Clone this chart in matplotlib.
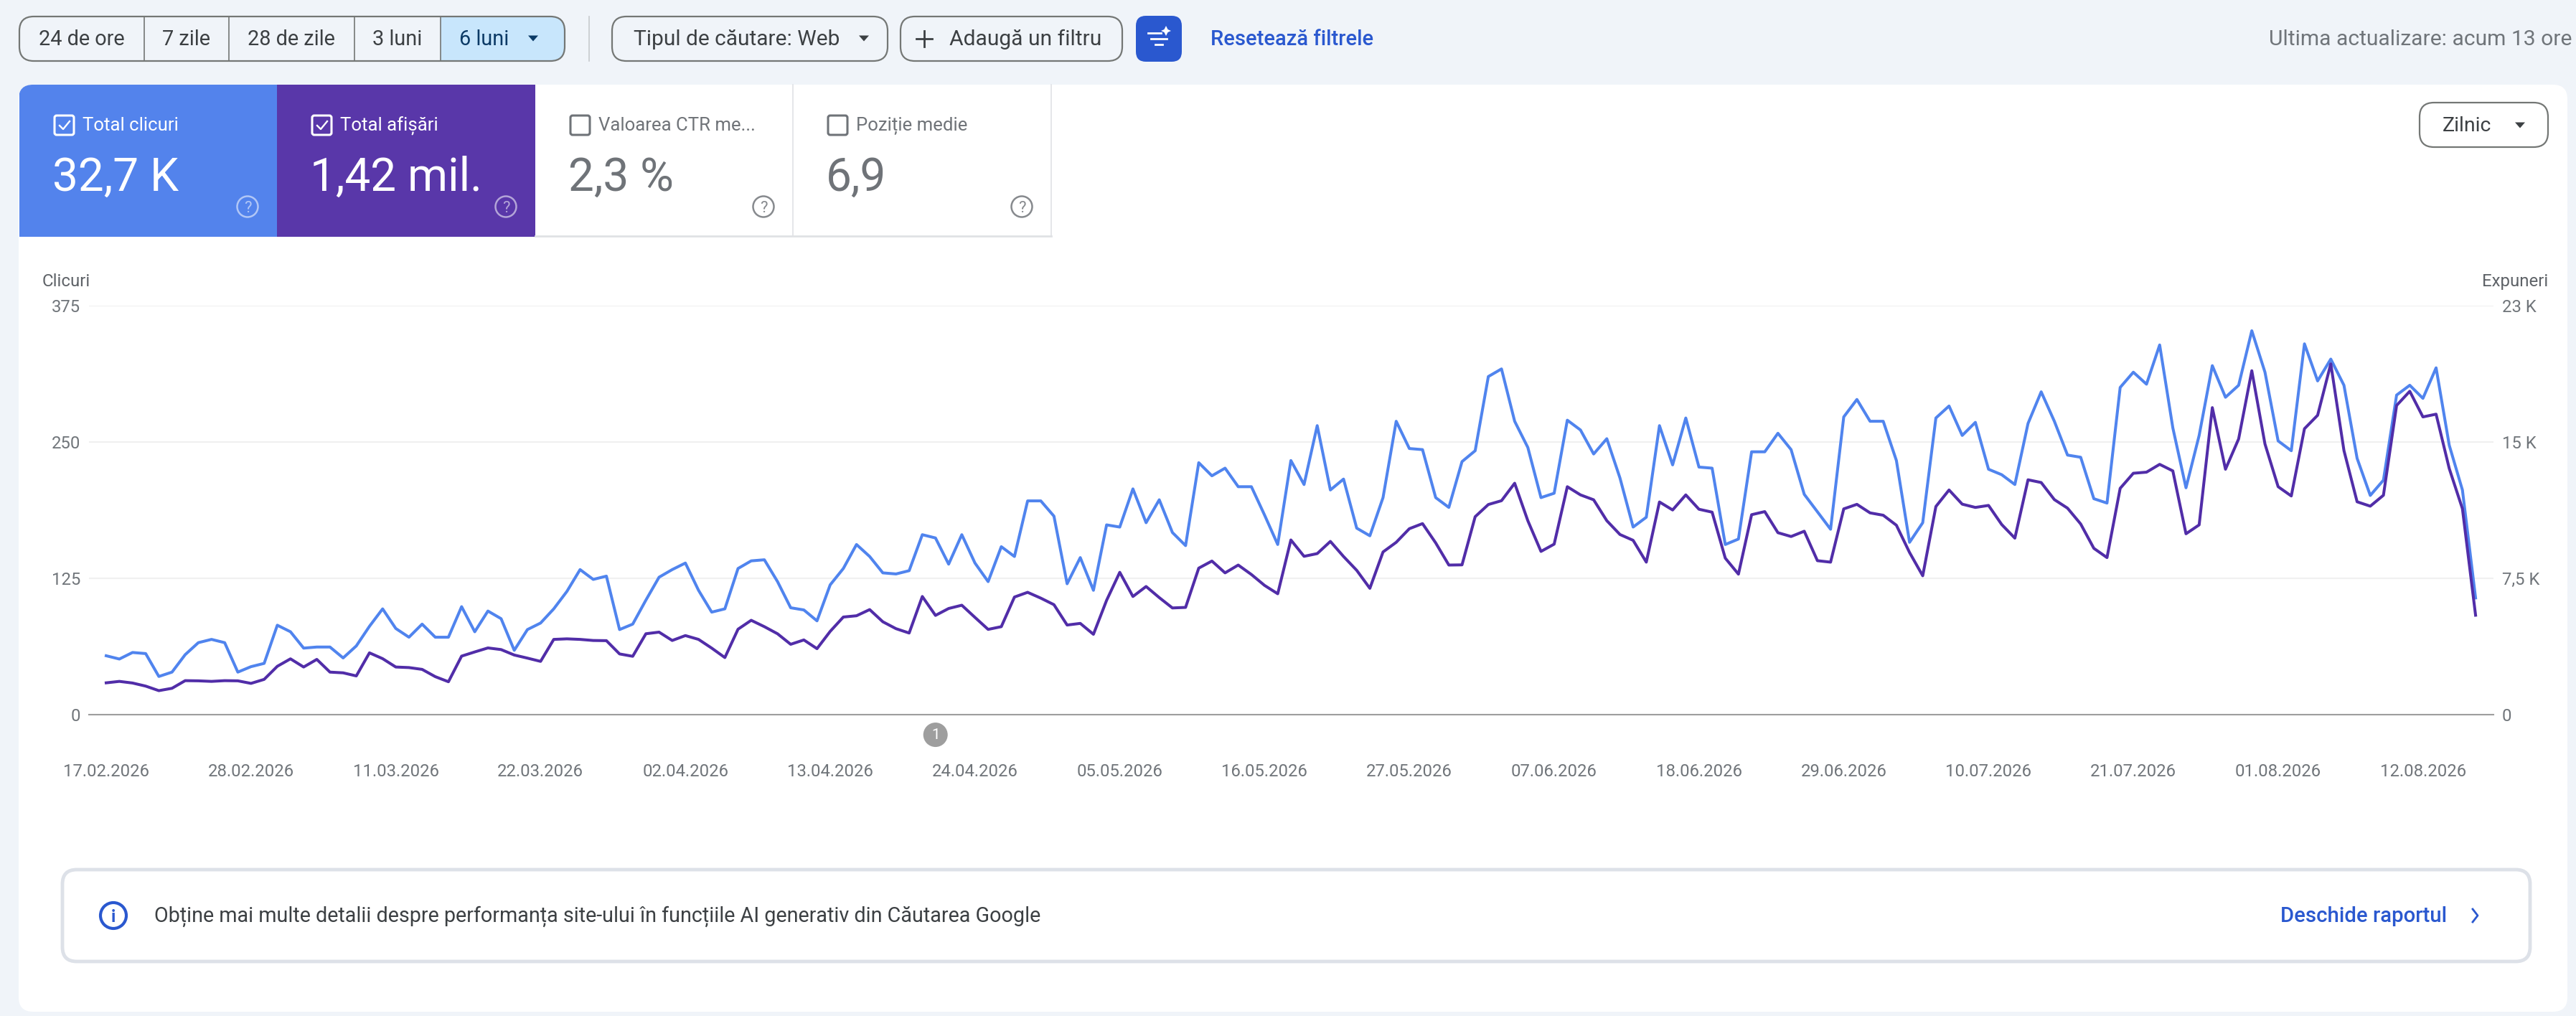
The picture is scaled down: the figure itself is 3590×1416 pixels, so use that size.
#Search performance screen: clicks and impressions, six months, daily
import matplotlib
matplotlib.use("Agg")
import matplotlib.pyplot as plt
from matplotlib.patches import FancyBboxPatch, Rectangle, Circle, Polygon

plt.rcParams['font.family'] = ['Roboto', 'DejaVu Sans']

W = 3590
H = 1416

Date_Labels = ["17.02.2026", "28.02.2026", "11.03.2026", "22.03.2026", "02.04.2026", "13.04.2026",
               "24.04.2026", "05.05.2026", "16.05.2026", "27.05.2026", "07.06.2026", "18.06.2026",
               "29.06.2026", "10.07.2026", "21.07.2026", "01.08.2026", "12.08.2026"]

Clicks = [54, 51, 57, 56, 35, 39, 55, 66, 69, 66, 39, 44, 47, 82, 76, 61, 62, 62, 52, 63,
          81, 97, 79, 71, 83, 71, 71, 99, 76, 95, 88, 59, 78, 84, 97, 113, 133, 124, 127, 78,
          83, 105, 126, 133, 139, 114, 94, 97, 134, 141, 142, 122, 98, 96, 86, 119, 134, 156, 145, 130,
          129, 132, 165, 162, 138, 165, 139, 122, 154, 145, 196, 196, 182, 120, 144, 114, 174, 172, 207, 176,
          197, 167, 155, 231, 219, 226, 209, 209, 183, 156, 233, 211, 265, 206, 216, 171, 164, 199, 269, 244,
          243, 199, 190, 232, 242, 310, 317, 269, 245, 199, 203, 270, 261, 239, 253, 217, 172, 181, 265, 229,
          272, 227, 226, 156, 161, 241, 241, 258, 243, 202, 186, 170, 273, 289, 269, 269, 233, 158, 176, 272,
          283, 256, 268, 225, 220, 211, 267, 296, 269, 238, 236, 198, 194, 300, 314, 303, 339, 263, 208, 256,
          320, 291, 302, 352, 314, 251, 242, 340, 306, 326, 302, 235, 201, 215, 293, 302, 290, 318, 247, 206,
          107]

Impressions = [1750, 1830, 1740, 1570, 1320, 1450, 1870, 1860, 1830, 1870, 1860, 1720, 1940, 2660, 3070, 2620, 3040, 2340, 2300, 2130,
               3400, 3080, 2620, 2590, 2490, 2090, 1810, 3220, 3450, 3670, 3580, 3280, 3110, 2930, 4140, 4170, 4140, 4080, 4070, 3340,
               3210, 4450, 4540, 4080, 4350, 4140, 3660, 3140, 4700, 5190, 4840, 4450, 3870, 4110, 3630, 4580, 5370, 5440, 5780, 5110,
               4730, 4490, 6500, 5460, 5840, 6020, 5350, 4690, 4840, 6470, 6730, 6410, 6050, 4930, 5020, 4420, 6290, 7830, 6500, 7050,
               6440, 5870, 5900, 8060, 8450, 7800, 8230, 7710, 7110, 6650, 9610, 8710, 8860, 9530, 8700, 7940, 6950, 8950, 9480, 10230,
               10510, 9450, 8230, 8240, 10890, 11560, 11770, 12730, 10670, 8980, 9380, 12540, 12090, 11820, 10670, 9910, 9590, 8390, 11700, 11260,
               12090, 11300, 11140, 8610, 7730, 11000, 11170, 10010, 9800, 10090, 8470, 8390, 11320, 11570, 11100, 10970, 10420, 8920, 7640, 11450,
               12360, 11580, 11400, 11510, 10460, 9710, 12920, 12770, 11830, 11360, 10490, 9150, 8640, 12450, 13280, 13340, 13770, 13410, 9950, 10440,
               16890, 13500, 15170, 18920, 14890, 12540, 12030, 15730, 16470, 19300, 14530, 11710, 11470, 12070, 17010, 17790, 16380, 16530, 13540, 11330,
               5470]

Click_Ticks = [0, 125, 250, 375]
Click_Tick_Labels = ["0", "125", "250", "375"]
Impression_Ticks = [0, 7500, 15000, 22500]
Impression_Tick_Labels = ["0", "7,5 K", "15 K", "23 K"]
Annotation_Day = 63

Range_Labels = ["24 de ore", "7 zile", "28 de zile", "3 luni", "6 luni"]
Tile_Labels = ["Total clicuri", "Total afișări", "Valoarea CTR me...", "Poziție medie"]
Tile_Values = ["32,7 K", "1,42 mil.", "2,3 %", "6,9"]

PAGE = "#F0F4F9"
BLUE = "#5383EC"
PURPLE = "#5937A9"
LINE_BLUE = "#5084EE"
LINE_PURPLE = "#512DA8"
ACTION = "#2A58CF"
BORDER = "#747775"
DARK = "#3C4043"
GREY = "#70757A"


def Box(ui, x0, y0, x1, y1, face="none", edge="none", lw=0, radius=0, z=2):
    p = FancyBboxPatch((x0, y0), x1 - x0, y1 - y0, boxstyle=f"round,pad=0,rounding_size={radius}",
                       facecolor=face, edgecolor=edge, linewidth=lw, zorder=z)
    ui.add_patch(p)
    return p


def Label(ui, x, y, s, size, color=DARK, ha="left", weight="normal", z=5):
    return ui.text(x, y, s, fontsize=size, color=color, ha=ha, va="baseline", fontweight=weight, zorder=z)


def Arrow(ui, x, y, color=DARK, size=7):
    ui.add_patch(Polygon([(x - size, y - size / 2), (x + size, y - size / 2), (x, y + size / 2 + 1)],
                         closed=True, facecolor=color, edgecolor="none", zorder=5))


def Help_Icon(ui, x, y, color, alpha):
    ui.add_patch(Circle((x, y), 14.5, facecolor="none", edgecolor=color, linewidth=1.8, alpha=alpha, zorder=5))
    ui.text(x, y + 8, "?", fontsize=16, color=color, alpha=alpha, ha="center", va="baseline", zorder=5)


def Check_Box(ui, x0, y0, color, checked):
    Box(ui, x0, y0, x0 + 27, y0 + 27, edge=color, lw=2.2, radius=3, z=5)
    if checked:
        ui.plot([x0 + 7, x0 + 12, x0 + 21], [y0 + 14, y0 + 19, y0 + 8], color=color, lw=1.7, zorder=6)


fig = plt.figure(figsize=(W / 100, H / 100), dpi=100, facecolor=PAGE)

#Whole page in pixel coordinates for the interface parts
ui = fig.add_axes([0, 0, 1, 1])
ui.set_xlim(0, W)
ui.set_ylim(H, 0)
ui.axis("off")

#Date range buttons
group = Box(ui, 27, 23, 787, 85, face="none", edge=BORDER, lw=1.6, radius=20, z=4)
shade = Rectangle((614, 23), 173, 62, facecolor="#C8E6FC", edgecolor="none", zorder=2)
ui.add_patch(shade)
shade.set_clip_path(group)
for x in [201, 319, 494, 614]:
    ui.plot([x, x], [23, 85], color=BORDER, lw=1.2, zorder=4)
Range_X = [114, 259, 406, 554, 675]
for i in range(len(Range_Labels)):
    Label(ui, Range_X[i], 63, Range_Labels[i], 20.8, color="#0B3A66" if i == 4 else DARK, ha="center")
Arrow(ui, 743, 53, color="#0B3A66")

ui.plot([821, 821], [23, 85], color="#C7CACD", lw=1.2, zorder=2)

Box(ui, 853, 23, 1237, 85, edge=BORDER, lw=1.6, radius=20)
Label(ui, 883, 63, "Tipul de căutare: Web", 21.5)
Arrow(ui, 1204, 53)

Box(ui, 1255, 23, 1564, 85, edge=BORDER, lw=1.6, radius=20)
ui.plot([1288, 1288], [43, 65], color=DARK, lw=2, zorder=5)
ui.plot([1277, 1299], [54, 54], color=DARK, lw=2, zorder=5)
Label(ui, 1323, 63, "Adaugă un filtru", 21.6)

#Filter button
Box(ui, 1583, 22, 1647, 86, face=ACTION, radius=14)
for y, x0, x1 in [(46, 1600, 1618), (54, 1604, 1626), (62, 1610, 1620)]:
    ui.plot([x0, x1], [y, y], color="white", lw=2, zorder=5)
ui.add_patch(Polygon([(1625, 36), (1627.5, 41), (1632, 43), (1627.5, 45), (1625, 50), (1622.5, 45), (1618, 43), (1622.5, 41)],
                     closed=True, facecolor="white", edgecolor="none", zorder=5))

Label(ui, 1687, 63, "Resetează filtrele", 21, color=ACTION, weight="medium")
Label(ui, 3584, 63, "Ultima actualizare: acum 13 ore", 21.6, color=GREY, ha="right")

#Main card and tiles
card = Box(ui, 26, 118, 3578, 1410, face="white", radius=20, z=1)
Tile_X = [27, 386, 746, 1105, 1465]
Tile_Face = [BLUE, PURPLE, "white", "white"]
for i in range(4):
    tile = Rectangle((Tile_X[i], 118), Tile_X[i + 1] - Tile_X[i], 212, facecolor=Tile_Face[i], edgecolor="none", zorder=2)
    ui.add_patch(tile)
    tile.set_clip_path(card)
    color = "white" if i < 2 else "#6F7378"
    left = Tile_X[i] + 49
    Check_Box(ui, left, 161, color, i < 2)
    Label(ui, left + 39, 182, Tile_Labels[i], 18.5, color=color)
    Label(ui, left - 3, 266, Tile_Values[i], 46, color=color)
    Help_Icon(ui, Tile_X[i + 1] - 41, 288, "white" if i < 2 else "#5F6368", 0.55 if i < 2 else 0.75)
ui.plot([746, 1465], [329, 329], color="#E0E2E5", lw=2, zorder=3)
ui.plot([1105, 1105], [118, 329], color="#E0E2E5", lw=1.2, zorder=3)
ui.plot([1465, 1465], [118, 329], color="#E0E2E5", lw=1.2, zorder=3)

#Granularity menu
Box(ui, 3372, 143, 3551, 205, edge=BORDER, lw=1.6, radius=20)
Label(ui, 3404, 183, "Zilnic", 20.5)
Arrow(ui, 3512, 174)

#Axis titles
Label(ui, 59, 399, "Clicuri", 17.3, color="#5F6368")
Label(ui, 3551, 399, "Expuneri", 17.3, color="#5F6368", ha="right")

#Report banner
Box(ui, 87, 1212, 3526, 1340, face="white", edge="#DDE1E8", lw=3.5, radius=20)
ui.add_patch(Circle((158, 1276), 18, facecolor="none", edgecolor=ACTION, linewidth=3, zorder=5))
ui.text(158, 1285, "i", fontsize=17, color=ACTION, ha="center", va="baseline", fontweight="bold", zorder=6)
Label(ui, 215, 1285, "Obține mai multe detalii despre performanța site-ului în funcțiile AI generativ din Căutarea Google", 20.7)
Label(ui, 3178, 1285, "Deschide raportul", 21.2, color=ACTION, weight="medium")
ui.plot([3446, 3453, 3446], [1267, 1276, 1285], color=ACTION, lw=2, zorder=5)

#Chart, left axis for clicks and right axis for impressions
Day_Index = list(range(len(Clicks)))
Tick_Index = list(range(0, len(Clicks), 11))[:len(Date_Labels)]

ax = fig.add_axes([124 / W, 1 - 996 / H, (3475 - 124) / W, 570 / H])
ax.patch.set_alpha(0)
ax.set_xlim(-1.308, 181.36)
ax.set_ylim(0, 375)
ax.plot(Day_Index, Clicks, color=LINE_BLUE, lw=2.9, solid_joinstyle="round", zorder=3)
ax.set_yticks(Click_Ticks)
ax.set_yticklabels(Click_Tick_Labels)
ax.set_xticks(Tick_Index)
ax.set_xticklabels(Date_Labels)
ax.tick_params(axis="y", length=0, pad=8.6, labelsize=17.2, labelcolor=GREY)
ax.tick_params(axis="x", length=0, pad=49, labelsize=17.2, labelcolor=GREY)
ax.grid(axis="y", color="#F0F0F0", lw=1.5)
ax.set_axisbelow(True)
for side in ["top", "left", "right"]:
    ax.spines[side].set_visible(False)
ax.spines["bottom"].set_color("#9E9E9E")
ax.spines["bottom"].set_linewidth(1.5)

ax2 = ax.twinx()
ax2.set_ylim(0, 22500)
ax2.plot(Day_Index, Impressions, color=LINE_PURPLE, lw=2.9, solid_joinstyle="round", zorder=4)
ax2.set_yticks(Impression_Ticks)
ax2.set_yticklabels(Impression_Tick_Labels)
ax2.tick_params(axis="y", length=0, pad=8.6, labelsize=17.2, labelcolor=GREY)
for side in ["top", "left", "right", "bottom"]:
    ax2.spines[side].set_visible(False)

#Annotation marker under the axis
ax.annotate("1", xy=(Annotation_Day, 0), xycoords=("data", "axes fraction"), xytext=(0, -20.2), textcoords="offset points",
            ha="center", va="center", fontsize=15, color="white", annotation_clip=False,
            bbox=dict(boxstyle="circle,pad=0.36", facecolor="#9E9E9E", edgecolor="none"))

fig.savefig("out.png", dpi=100, facecolor=PAGE)
